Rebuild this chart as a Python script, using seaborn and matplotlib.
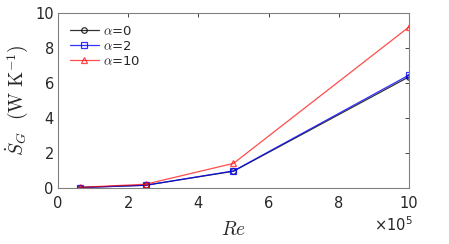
import matplotlib
matplotlib.use("Agg")
import matplotlib.pyplot as plt
import seaborn as sns
import pandas as pd

sns.set_theme(style="white")
plt.rcParams['font.family'] = ['DejaVu Sans']
plt.rcParams['mathtext.fontset'] = 'cm'

re_vals = [0.625e5, 2.5e5, 5e5, 10e5]
s_alpha0 = [0.02, 0.15, 0.95, 6.35]
s_alpha2 = [0.02, 0.15, 0.97, 6.45]
s_alpha10 = [0.03, 0.21, 1.40, 9.20]
labels = [r"$\alpha$=0", r"$\alpha$=2", r"$\alpha$=10"]

df = pd.DataFrame({
    "Re": re_vals * 3,
    "S": s_alpha0 + s_alpha2 + s_alpha10,
    "series": [labels[0]] * 4 + [labels[1]] * 4 + [labels[2]] * 4,
})

fig = plt.figure(figsize=(4.49, 2.44), dpi=100)
ax = fig.add_axes([0.129, 0.23, 0.782, 0.717])

colors = {labels[0]: "#000000", labels[1]: "#0000ff", labels[2]: "#ff0000"}
markers = {labels[0]: "o", labels[1]: "s", labels[2]: "^"}
alphas = {labels[0]: 0.8, labels[1]: 0.8, labels[2]: 0.7}
for lab in labels:
    sub = df[df.series == lab]
    sns.lineplot(data=sub, x="Re", y="S", ax=ax, color=colors[lab], marker=markers[lab],
                 markersize=4, markerfacecolor="none", markeredgecolor=colors[lab],
                 markeredgewidth=0.9, linewidth=0.9, label=lab, alpha=alphas[lab])

ax.set_xlim(0, 10e5)
ax.set_ylim(0, 10)
ax.set_xticks([0, 2e5, 4e5, 6e5, 8e5, 10e5])
ax.set_xticklabels(["0", "2", "4", "6", "8", "10"])
ax.set_yticks([0, 2, 4, 6, 8, 10])
ax.tick_params(direction="in", length=3, top=True, right=True, labelsize=10.5,
               colors="#262626", width=0.6)
ax.tick_params(axis="x", pad=6)
ax.tick_params(axis="y", pad=3)
for t in ax.get_xticklines() + ax.get_yticklines():
    t.set_color("#808080")
for sp in ax.spines.values():
    sp.set_color("#808080")
    sp.set_linewidth(0.8)

ax.set_xlabel(r"$Re$", fontsize=14, color="#262626", labelpad=6)
ax.set_ylabel(r"$\dot{S}_G\ \ (\mathrm{W\ K}^{-1})$", fontsize=14, color="#262626", labelpad=4)
fig.text(0.918, 0.04, r"$\times10^5$", ha="right", va="bottom", fontsize=10.5, color="#262626",
         family="DejaVu Sans", math_fontfamily="dejavusans")

leg = ax.legend(loc="upper left", frameon=False, fontsize=9.5, handlelength=2.2,
                handletextpad=0.3, labelspacing=0.15, borderaxespad=0.5)

fig.savefig("out.png", dpi=100)
